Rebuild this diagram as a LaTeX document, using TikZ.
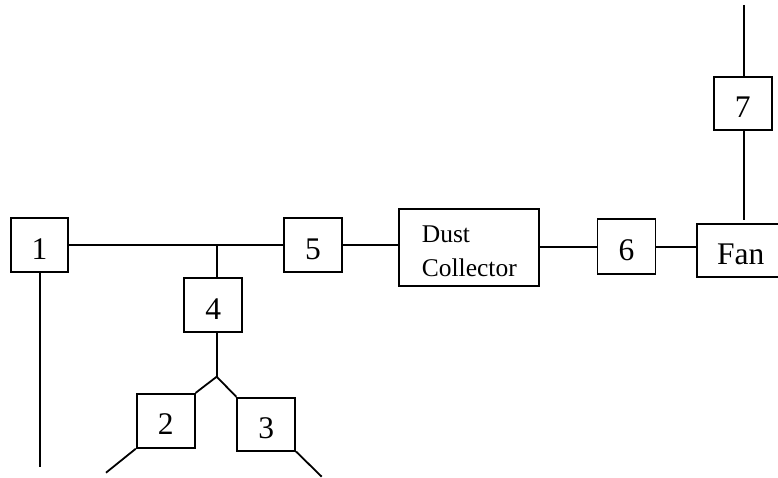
\documentclass[tikz,border=0pt]{standalone}
\usepackage{fontspec}
\setmainfont{Liberation Serif}
\begin{document}
\begin{tikzpicture}[x=1pt,y=-1pt,
  box/.style={draw, line width=1.8pt, inner sep=0pt, font=\fontsize{31.5}{36}\selectfont, text height=35pt, text depth=7pt},
  ln/.style={line width=1.8pt}]
\useasboundingbox (0,0) rectangle (778,478);
\clip (0,0) rectangle (778,478);
\node[box, minimum width=57pt, minimum height=54pt] (b1) at (39.5,245) {1};
\node[box, minimum width=58pt, minimum height=54pt] (b2) at (165.7,420.8) {2};
\node[box, minimum width=58pt, minimum height=53pt] (b3) at (266.2,424.2) {3};
\node[box, minimum width=58pt, minimum height=54pt] (b4) at (213.2,305) {4};
\node[box, minimum width=58pt, minimum height=54pt] (b5) at (313,245) {5};
\node[box, minimum width=58pt, minimum height=55pt] (b6) at (626.5,246.7) {6};
\node[box, minimum width=58pt, minimum height=53pt] (b7) at (742.8,103.7) {7};
\node[box, minimum width=88pt, minimum height=53pt] (fan) at (740.8,250.3) {Fan};
\node[draw, line width=1.8pt, inner sep=0pt, minimum width=140pt, minimum height=77pt, align=left, text height=58pt, text depth=0pt, font=\fontsize{25.5}{34}\selectfont] (dc) at (469.3,247.7) {Dust\\Collector};
\coordinate (j) at (216.7,245);
\coordinate (apex) at (216.7,376.7);
\coordinate (e1) at (40,466.7);
\coordinate (e2) at (106,472.7);
\coordinate (e3) at (321.7,476.7);
\coordinate (top) at (744.3,5);
\draw[ln] (b1.east) -- (b5.west);
\draw[ln] (j) -- (j |- b4.north);
\draw[ln] (j |- b4.south) -- (apex);
\draw[ln] (b2.north east) -- (apex) -- (b3.north west);
\draw[ln] (b2.south west) -- (e2);
\draw[ln] (b3.south east) -- (e3);
\draw[ln] (e1 |- b1.south) -- (e1);
\draw[ln] (b5.east) -- (b5.east -| dc.west);
\draw[ln] (b6.west -| dc.east) -- (b6.west);
\draw[ln] (b6.east) -- (b6.east -| fan.west);
\draw[ln] (top) -- (top |- b7.north);
\draw[ln] (top |- b7.south) -- ([yshift=3pt]top |- fan.north);
\end{tikzpicture}
\end{document}
